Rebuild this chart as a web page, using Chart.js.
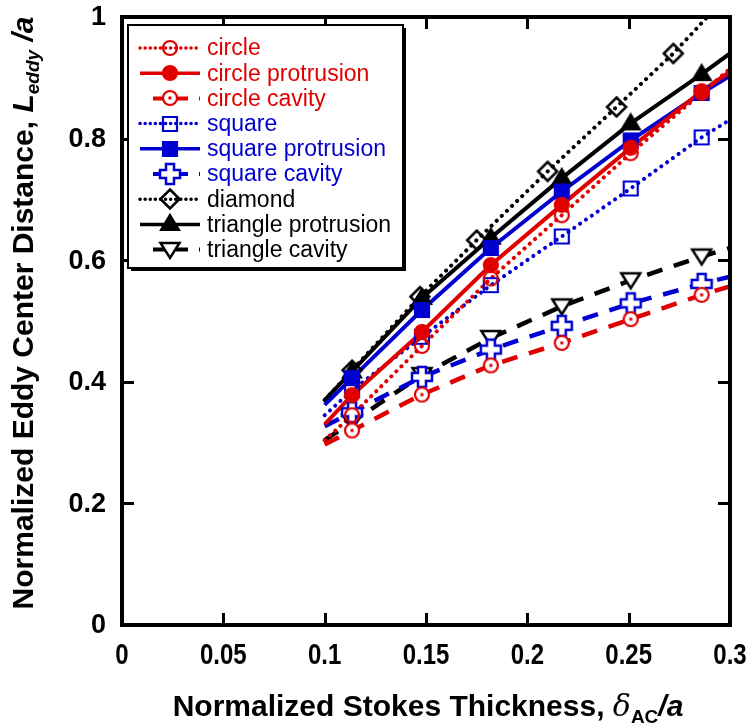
<!DOCTYPE html>
<html>
<head>
<meta charset="utf-8">
<script src="https://cdn.jsdelivr.net/npm/chart.js@4.4.1/dist/chart.umd.min.js"></script>
<style>
  html, body { margin: 0; padding: 0; background: #fff; }
  #wrap { width: 751px; height: 727px; }
</style>
</head>
<body>
<div id="wrap"><canvas id="eddyChart"></canvas></div>
<script>
const RED = '#e00000';
const BLUE = '#0000d0';
const BLACK = '#000000';

const seriesNames = ['circle', 'circle protrusion', 'circle cavity', 'square', 'square protrusion',
  'square cavity', 'diamond', 'triangle protrusion', 'triangle cavity'];

// marker positions (normalized Stokes thickness)
const markerX = [0.1135, 0.148, 0.182, 0.217, 0.251, 0.286];
const diamondX = [0.1135, 0.147, 0.175, 0.210, 0.244, 0.272];
// fitted lines run from x = 0.1 to x = 0.3
const fitX = [0.1, 0.3];

const circleY = [0.345, 0.459, 0.570, 0.674, 0.776, 0.875];
const circleProtY = [0.378, 0.482, 0.592, 0.691, 0.785, 0.878];
const circleCavY = [0.320, 0.379, 0.427, 0.464, 0.503, 0.543];
const squareY = [0.386, 0.474, 0.559, 0.639, 0.718, 0.802];
const squareProtY = [0.406, 0.518, 0.620, 0.713, 0.797, 0.875];
const squareCavY = [0.350, 0.408, 0.453, 0.492, 0.529, 0.561];
const diamondY = [0.419, 0.540, 0.633, 0.746, 0.852, 0.940];
const triProtY = [0.417, 0.538, 0.637, 0.735, 0.825, 0.906];
const triCavY = [0.334, 0.411, 0.472, 0.524, 0.567, 0.606];

// line values at the two ends (x = 0.1, x = 0.3)
const circleFit = [0.304, 0.915];
const circleProtFit = [0.330, 0.910];
const circleCavFit = [0.297, 0.557];
const squareFit = [0.345, 0.831];
const squareProtFit = [0.362, 0.903];
const squareCavFit = [0.327, 0.573];
const diamondFit = [0.370, 1.040];
const triProtFit = [0.370, 0.940];
const triCavFit = [0.304, 0.620];

const xTicks = [0, 0.05, 0.1, 0.15, 0.2, 0.25, 0.3];
const xTickLabels = ['0', '0.05', '0.1', '0.15', '0.2', '0.25', '0.3'];
const yTicks = [0, 0.2, 0.4, 0.6, 0.8, 1];
const yTickLabels = ['0', '0.2', '0.4', '0.6', '0.8', '1'];

const DOT = [0.1, 7];
const DASH = [16, 12];

// small canvases used as point styles
function makeMarker(kind, color) {
  const c = document.createElement('canvas');
  c.width = 28; c.height = 28;
  const g = c.getContext('2d');
  const m = 14;
  g.lineWidth = 2.2;
  g.strokeStyle = color;
  g.fillStyle = color;
  g.beginPath();
  if (kind === 'circle' || kind === 'circleFill' || kind === 'circleDot') {
    g.arc(m, m, 7, 0, Math.PI * 2);
    if (kind === 'circleFill') g.fill();
    else if (kind === 'circleDot') { g.fillStyle = '#fff'; g.fill(); }
    g.stroke();
    if (kind === 'circleDot') { g.fillStyle = color; g.fillRect(m - 1.5, m - 1.5, 3, 3); }
  } else if (kind === 'square' || kind === 'squareFill') {
    g.rect(m - 7, m - 7, 14, 14);
    if (kind === 'squareFill') g.fill();
    g.stroke();
  } else if (kind === 'plus') {
    const a = 4, b = 10;
    g.moveTo(m - a, m - b); g.lineTo(m + a, m - b); g.lineTo(m + a, m - a); g.lineTo(m + b, m - a);
    g.lineTo(m + b, m + a); g.lineTo(m + a, m + a); g.lineTo(m + a, m + b); g.lineTo(m - a, m + b);
    g.lineTo(m - a, m + a); g.lineTo(m - b, m + a); g.lineTo(m - b, m - a); g.lineTo(m - a, m - a);
    g.closePath();
    g.fillStyle = '#fff'; g.fill(); g.lineWidth = 2.5; g.stroke();
  } else if (kind === 'diamond') {
    g.moveTo(m, m - 9.5); g.lineTo(m + 9.5, m); g.lineTo(m, m + 9.5); g.lineTo(m - 9.5, m); g.closePath();
    g.lineWidth = 2.5; g.stroke();
  } else if (kind === 'triUp') {
    g.moveTo(m, m - 9); g.lineTo(m + 9, m + 6); g.lineTo(m - 9, m + 6); g.closePath();
    g.fill(); g.stroke();
  } else if (kind === 'triDown') {
    g.moveTo(m - 9.5, m - 7); g.lineTo(m + 9.5, m - 7); g.lineTo(m, m + 8); g.closePath();
    g.fillStyle = '#fff'; g.fill(); g.lineWidth = 2.5; g.stroke();
  }
  return c;
}

const styles = [
  { color: RED, dash: DOT, width: 4, marker: makeMarker('circle', RED), xs: markerX, ys: circleY, fit: circleFit },
  { color: RED, dash: [], width: 4, marker: makeMarker('circleFill', RED), xs: markerX, ys: circleProtY, fit: circleProtFit },
  { color: RED, dash: DASH, width: 4.5, marker: makeMarker('circleDot', RED), xs: markerX, ys: circleCavY, fit: circleCavFit, short: true },
  { color: BLUE, dash: DOT, width: 4, marker: makeMarker('square', BLUE), xs: markerX, ys: squareY, fit: squareFit },
  { color: BLUE, dash: [], width: 4, marker: makeMarker('squareFill', BLUE), xs: markerX, ys: squareProtY, fit: squareProtFit },
  { color: BLUE, dash: DASH, width: 4.5, marker: makeMarker('plus', BLUE), xs: markerX, ys: squareCavY, fit: squareCavFit, short: true },
  { color: BLACK, dash: DOT, width: 4, marker: makeMarker('diamond', BLACK), xs: diamondX, ys: diamondY, fit: diamondFit },
  { color: BLACK, dash: [], width: 4, marker: makeMarker('triUp', BLACK), xs: markerX, ys: triProtY, fit: triProtFit },
  { color: BLACK, dash: DASH, width: 4.5, marker: makeMarker('triDown', BLACK), xs: markerX, ys: triCavY, fit: triCavFit, short: true }
];

const datasets = [];
styles.forEach((s, i) => {
  const pts = s.xs.map((x, k) => ({ x: x, y: s.ys[k] }));
  datasets.push({
    label: seriesNames[i],
    data: [{ x: fitX[0], y: s.fit[0] }].concat(pts, [{ x: fitX[1], y: s.fit[1] }]),
    borderColor: s.color,
    borderWidth: s.width,
    borderDash: s.dash,
    borderCapStyle: s.dash === DOT ? 'round' : 'butt',
    pointRadius: 0,
    showLine: true,
    order: 2
  });
  datasets.push({
    label: seriesNames[i] + ' markers',
    data: pts,
    showLine: false,
    pointStyle: s.marker,
    pointRadius: 7,
    order: 1
  });
});

function drawRich(ctx, parts, x, y) {
  // parts: {t, font, dy}; centered on x
  let total = 0;
  parts.forEach(p => { ctx.font = p.font; total += ctx.measureText(p.t).width; });
  let cx = x - total / 2;
  parts.forEach(p => {
    ctx.font = p.font;
    ctx.fillText(p.t, cx, y + (p.dy || 0));
    cx += ctx.measureText(p.t).width;
  });
}

const framePlugin = {
  id: 'frame',
  afterDraw(chart) {
    const { ctx, chartArea: a, scales } = chart;
    ctx.save();
    // inward ticks on all four sides
    ctx.strokeStyle = '#000';
    ctx.lineWidth = 3;
    const tl = 12;
    xTicks.slice(1, -1).forEach(v => {
      const px = Math.round(scales.x.getPixelForValue(v)) + 0.5;
      ctx.beginPath();
      ctx.moveTo(px, a.bottom); ctx.lineTo(px, a.bottom - tl);
      ctx.moveTo(px, a.top); ctx.lineTo(px, a.top + tl);
      ctx.stroke();
    });
    yTicks.slice(1, -1).forEach(v => {
      const py = Math.round(scales.y.getPixelForValue(v)) + 0.5;
      ctx.beginPath();
      ctx.moveTo(a.left, py); ctx.lineTo(a.left + tl, py);
      ctx.moveTo(a.right, py); ctx.lineTo(a.right - tl, py);
      ctx.stroke();
    });
    ctx.lineWidth = 4;
    ctx.strokeRect(a.left, a.top, a.right - a.left, a.bottom - a.top);

    // tick labels
    ctx.fillStyle = '#000';
    ctx.textBaseline = 'middle';
    ctx.textAlign = 'right';
    ctx.font = 'bold 27px "Liberation Sans", Arial, sans-serif';
    yTicks.forEach((v, i) => {
      ctx.fillText(yTickLabels[i], a.left - 16, scales.y.getPixelForValue(v) + 1);
    });
    ctx.textAlign = 'center';
    ctx.font = 'bold 30px "Liberation Sans", Arial, sans-serif';
    xTicks.forEach((v, i) => {
      ctx.save();
      ctx.translate(scales.x.getPixelForValue(v), a.bottom + 31);
      ctx.scale(0.8, 1);
      ctx.fillText(xTickLabels[i], 0, 0);
      ctx.restore();
    });

    // legend
    const bx = 128, by = 25, bw = 275, bh = 243;
    ctx.fillStyle = '#000';
    ctx.fillRect(bx + 3, by + 3, bw, bh);
    ctx.fillStyle = '#fff';
    ctx.fillRect(bx, by, bw, bh);
    ctx.lineWidth = 2;
    ctx.strokeRect(bx, by, bw, bh);
    ctx.font = '23px "Liberation Sans", Arial, sans-serif';
    ctx.textBaseline = 'middle';
    ctx.textAlign = 'left';
    styles.forEach((s, i) => {
      const ry = 48 + i * 25.2;
      ctx.strokeStyle = s.color;
      ctx.lineWidth = s.width - 0.5;
      ctx.setLineDash(s.dash === DASH ? [12, 11] : s.dash === DOT ? [0.1, 5] : []);
      ctx.lineCap = s.dash === DOT ? 'round' : 'butt';
      ctx.beginPath();
      ctx.moveTo(s.short ? 153 : 140, ry);
      ctx.lineTo(200, ry);
      ctx.stroke();
      ctx.setLineDash([]);
      ctx.drawImage(s.marker, 170 - 14, Math.round(ry) - 14);
      ctx.fillStyle = s.color;
      ctx.fillText(seriesNames[i], 207, ry + 1);
    });

    // axis titles with subscripts
    ctx.fillStyle = '#000';
    ctx.textBaseline = 'alphabetic';
    const nb = 'bold 30px "Liberation Sans", Arial, sans-serif';
    const ni = 'bold italic 30px "Liberation Sans", Arial, sans-serif';
    const ns = 'bold italic 19px "Liberation Sans", Arial, sans-serif';
    const nsb = 'bold 19px "Liberation Sans", Arial, sans-serif';
    drawRich(ctx, [
      { t: 'Normalized Stokes Thickness, ', font: nb },
      { t: '\u03b4', font: 'italic 30px "DejaVu Serif", serif' },
      { t: 'AC', font: nsb, dy: 7 },
      { t: '/a', font: ni }
    ], 428, 716);
    ctx.translate(33, 313);
    ctx.rotate(-Math.PI / 2);
    drawRich(ctx, [
      { t: 'Normalized Eddy Center Distance, ', font: nb },
      { t: 'L', font: ni },
      { t: 'eddy', font: ns, dy: 6 },
      { t: ' /a', font: ni }
    ], 0, 0);
    ctx.restore();
  }
};

const ctx = document.getElementById('eddyChart').getContext('2d');
new Chart(ctx, {
  type: 'scatter',
  data: { datasets: datasets },
  options: {
    responsive: true,
    maintainAspectRatio: false,
    animation: false,
    layout: { padding: { left: 0, right: 21, top: 17, bottom: 0 } },
    plugins: { legend: { display: false }, tooltip: { enabled: false } },
    scales: {
      x: {
        min: 0, max: 0.3,
        grid: { display: false, drawTicks: false },
        border: { display: false },
        ticks: { display: false, stepSize: 0.05 },
        afterFit: s => { s.height = 102; }
      },
      y: {
        min: 0, max: 1,
        grid: { display: false, drawTicks: false },
        border: { display: false },
        ticks: { display: false, stepSize: 0.2 },
        afterFit: s => { s.width = 122; }
      }
    }
  },
  plugins: [framePlugin]
});
</script>
</body>
</html>
